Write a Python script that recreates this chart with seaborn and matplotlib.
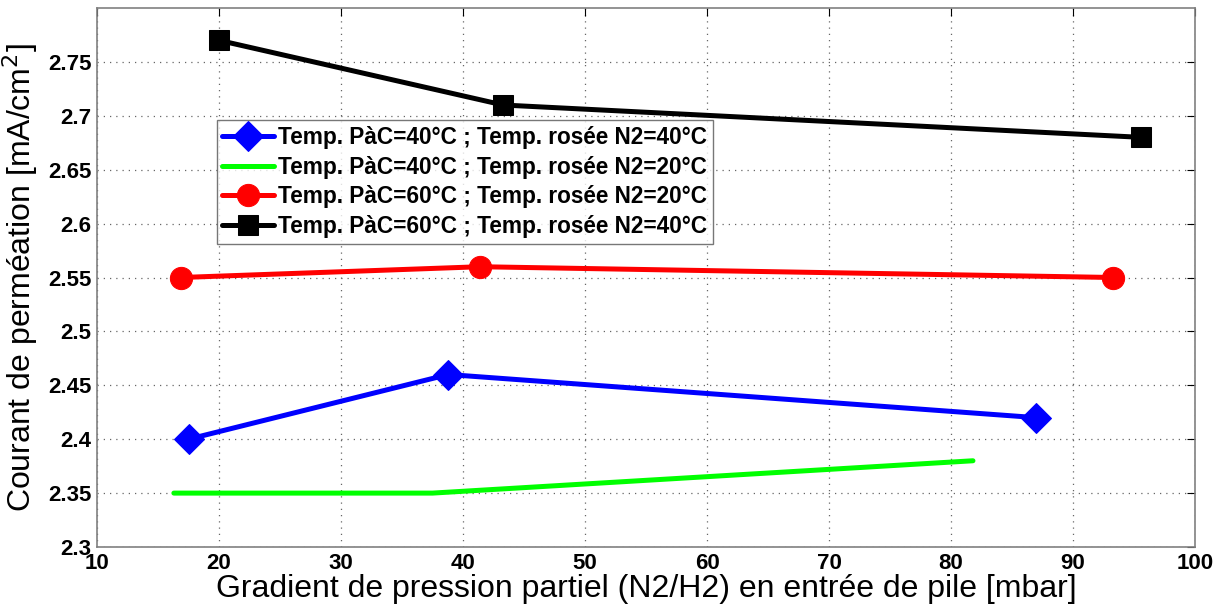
import matplotlib
matplotlib.use("Agg")
import matplotlib.pyplot as plt
import seaborn as sns
import pandas as pd

# Données
x_40_40 = [17.5, 38.8, 87.0]
y_40_40 = [2.40, 2.46, 2.42]
x_40_20 = [16.3, 37.5, 81.8]
y_40_20 = [2.35, 2.35, 2.38]
x_60_20 = [16.9, 41.4, 93.3]
y_60_20 = [2.55, 2.56, 2.55]
x_60_40 = [20.0, 43.3, 95.6]
y_60_40 = [2.77, 2.71, 2.68]

labels = [
    "Temp. PàC=40°C ; Temp. rosée N2=40°C",
    "Temp. PàC=40°C ; Temp. rosée N2=20°C",
    "Temp. PàC=60°C ; Temp. rosée N2=20°C",
    "Temp. PàC=60°C ; Temp. rosée N2=40°C",
]
xticks = list(range(10, 101, 10))
yticks = [2.3, 2.35, 2.4, 2.45, 2.5, 2.55, 2.6, 2.65, 2.7, 2.75]

sns.set_style("white")
plt.rcParams['font.family'] = ['Liberation Sans', 'DejaVu Sans']
plt.rcParams['text.color'] = 'black'
plt.rcParams['axes.labelcolor'] = 'black'
plt.rcParams['xtick.color'] = 'black'
plt.rcParams['ytick.color'] = 'black'

fig = plt.figure(figsize=(12.19, 6.10), dpi=100)
ax = fig.add_axes([97 / 1219, 63 / 610, 1098 / 1219, 539 / 610])

series = [
    (x_40_40, y_40_40, "#0000ff", "D", 15),
    (x_40_20, y_40_20, "#00ff00", None, 0),
    (x_60_20, y_60_20, "#ff0000", "o", 16),
    (x_60_40, y_60_40, "#000000", "s", 14),
]
for (xs, ys, col, mk, ms), lab in zip(series, labels):
    df = pd.DataFrame({"x": xs, "y": ys})
    sns.lineplot(data=df, x="x", y="y", ax=ax, color=col, linewidth=3.6,
                 marker=mk, markersize=ms, markeredgecolor=col,
                 sort=False, label=lab)

ax.set_xlim(10, 100)
ax.set_ylim(2.3, 2.8)
ax.set_xticks(xticks)
ax.set_yticks(yticks)
ax.set_xticklabels([str(v) for v in xticks], fontsize=16, fontweight='bold')
ax.set_yticklabels([f"{v:g}" for v in yticks], fontsize=16, fontweight='bold')
ax.tick_params(direction='in', length=6, top=True, right=True, pad=4, color='black')
ax.grid(True, linestyle=(0, (1, 4)), color='#666666', linewidth=0.9)
for sp in ax.spines.values():
    sp.set_color('#808080')
    sp.set_linewidth(1.2)

ax.set_xlabel("Gradient de pression partiel (N2/H2) en entrée de pile [mbar]",
              fontsize=23, labelpad=0)
ax.set_ylabel("Courant de perméation [mA/cm$^2$]", fontsize=23, labelpad=6)

leg = ax.legend(loc='upper left', bbox_to_anchor=(0.109, 0.792), frameon=True,
                fancybox=False, edgecolor='#555555', fontsize=16.3,
                handlelength=2.3, handletextpad=0.15, borderpad=0.25,
                labelspacing=0.3, borderaxespad=0)
for t in leg.get_texts():
    t.set_fontweight('bold')
leg.get_frame().set_linewidth(1.0)

fig.savefig("out.png", dpi=100)
